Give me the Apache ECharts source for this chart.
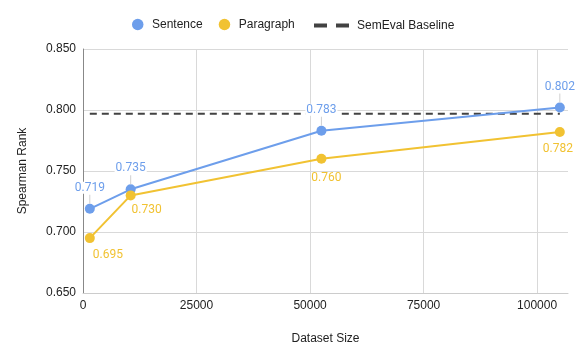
<!DOCTYPE html>
<html><head><meta charset="utf-8">
<script src="https://cdn.jsdelivr.net/npm/echarts@6/dist/echarts.min.js"></script>
<style>html,body{margin:0;padding:0;background:#fff}#c{width:581px;height:358px}</style>
</head><body><div id="c"></div>
<script>
const sizes = [1500, 10500, 52500, 105000];
const sentence = [0.719, 0.735, 0.783, 0.802];
const paragraph = [0.695, 0.730, 0.760, 0.782];
const baselineValue = 0.797;
const xTicks = [0, 25000, 50000, 75000, 100000];
const yTicks = [0.650, 0.700, 0.750, 0.800, 0.850];

const BLUE = '#6d9eeb', YELLOW = '#f1c232', DARK = '#424242';
const paraOffsets = [[18, 0], [16, -2], [5, 2], [-2, 0]];
const axisFont = {fontFamily: 'Liberation Sans, Arial, sans-serif', fontSize: 12, color: '#222'};
const labelFont = {fontFamily: 'Roboto, sans-serif', fontSize: 12};

const chart = echarts.init(document.getElementById('c'), null, {renderer: 'canvas'});
chart.setOption({
  animation: false,
  backgroundColor: '#fff',
  legend: [{
    data: [{name: 'Sentence', icon: 'circle'}, {name: 'Paragraph', icon: 'circle'}],
    left: 127, top: 13.5, itemWidth: 11.5, itemHeight: 11.5, itemGap: 16,
    textStyle: {fontFamily: 'Liberation Sans, Arial, sans-serif', fontSize: 12, color: '#222', padding: [0,0,0,3.5]}
  }, {
    data: [{name: 'SemEval Baseline', icon: 'path://M0,0h13v4h-13z M22,0h13v4h-13z'}],
    left: 309, top: 14.5, itemWidth: 35, itemHeight: 4,
    textStyle: {fontFamily: 'Liberation Sans, Arial, sans-serif', fontSize: 12, color: '#222', padding: [0,0,0,3]}
  }],
  grid: {left: 83, right: 13, top: 49, bottom: 65, containLabel: false},
  xAxis: {
    type: 'value', min: 0, max: 106800, interval: 25000,
    name: 'Dataset Size', nameLocation: 'middle', nameGap: 40,
    nameTextStyle: axisFont,
    axisLine: {show: true, lineStyle: {color: '#ccc'}},
    axisTick: {show: false},
    axisLabel: Object.assign({margin: 7, showMaxLabel: false,
      formatter: v => xTicks.includes(v) ? String(v) : ''}, axisFont),
    splitLine: {show: true, showMaxLine: false, lineStyle: {color: '#d9d9d9'}}
  },
  yAxis: {
    type: 'value', min: 0.650, max: 0.850, interval: 0.050,
    name: 'Spearman Rank', nameLocation: 'middle', nameGap: 54,
    nameTextStyle: axisFont,
    axisLine: {show: true, lineStyle: {color: '#888'}},
    axisTick: {show: false},
    axisLabel: Object.assign({margin: 7, formatter: v => v.toFixed(3)}, axisFont),
    splitLine: {show: true, lineStyle: {color: '#d9d9d9'}}
  },
  series: [{
    name: 'SemEval Baseline', type: 'line', color: DARK,
    data: [[sizes[0], baselineValue], [sizes[sizes.length - 1], baselineValue]],
    symbol: 'none',
    lineStyle: {width: 2, color: DARK, type: [7, 5]},
    itemStyle: {color: DARK},
    z: 2
  }, {
    name: 'Sentence', type: 'line', color: BLUE,
    data: sizes.map((x, i) => [x, sentence[i]]),
    symbol: 'circle', symbolSize: 10,
    lineStyle: {width: 2, color: BLUE},
    itemStyle: {color: BLUE},
    label: Object.assign({show: true, position: 'top', distance: 0, color: BLUE,
      formatter: p => '{v|' + p.value[1].toFixed(3) + '}\n{l| }',
      rich: {
        v: Object.assign({color: BLUE, lineHeight: 14, backgroundColor: '#fff', padding: [0, 1], align: 'center'}, labelFont),
        l: {width: 1, height: 9, lineHeight: 9, fontSize: 1, backgroundColor: '#d0d0d0', align: 'center'}
      }}, labelFont),
    z: 3
  }, {
    name: 'Paragraph', type: 'line', color: YELLOW,
    data: sizes.map((x, i) => ({value: [x, paragraph[i]], label: {offset: paraOffsets[i]}})),
    symbol: 'circle', symbolSize: 10,
    lineStyle: {width: 2, color: YELLOW},
    itemStyle: {color: YELLOW},
    label: Object.assign({show: true, position: 'bottom', distance: 6, color: YELLOW,
      formatter: p => p.value[1].toFixed(3)}, labelFont),
    z: 3
  }]
});
</script></body></html>
